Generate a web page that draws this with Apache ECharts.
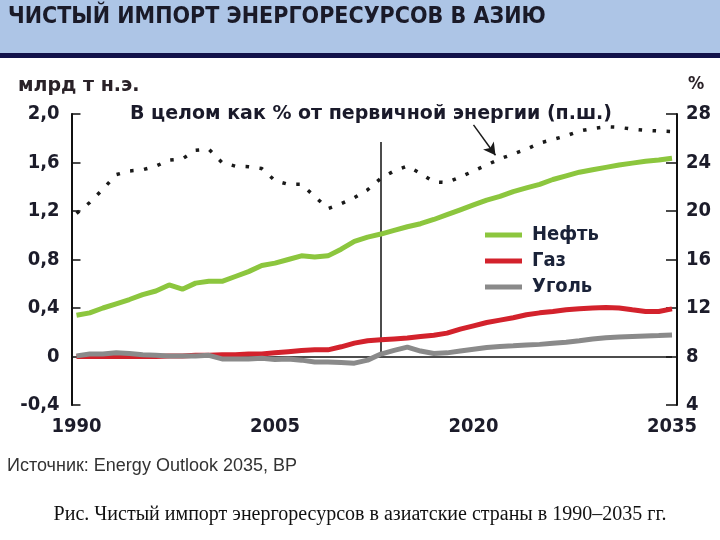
<!DOCTYPE html>
<html>
<head>
<meta charset="utf-8">
<script src="https://cdn.jsdelivr.net/npm/echarts@6/dist/echarts.min.js"></script>
<style>
  html, body { margin: 0; padding: 0; background: #ffffff; }
  #chart { width: 720px; height: 540px; }
</style>
</head>
<body>
<div id="chart"></div>
<script>
// ---- Data ----
const years = [1990,1991,1992,1993,1994,1995,1996,1997,1998,1999,
               2000,2001,2002,2003,2004,2005,2006,2007,2008,2009,
               2010,2011,2012,2013,2014,2015,2016,2017,2018,2019,
               2020,2021,2022,2023,2024,2025,2026,2027,2028,2029,
               2030,2031,2032,2033,2034,2035];
// billion toe (left axis)
const oil  = [0.34,0.36,0.40,0.435,0.47,0.51,0.54,0.59,0.555,0.605,
              0.62,0.62,0.66,0.70,0.75,0.77,0.80,0.83,0.82,0.83,
              0.885,0.95,0.985,1.01,1.04,1.07,1.095,1.13,1.17,1.21,
              1.25,1.29,1.32,1.36,1.39,1.42,1.46,1.49,1.52,1.54,
              1.56,1.58,1.595,1.61,1.62,1.635];
const gas  = [0,0,0,0,0,0,0,0.005,0.005,0.01,
              0.01,0.015,0.015,0.02,0.02,0.03,0.04,0.05,0.055,0.055,
              0.08,0.11,0.13,0.138,0.145,0.152,0.165,0.176,0.193,0.226,
              0.253,0.28,0.30,0.32,0.344,0.36,0.371,0.385,0.393,0.40,
              0.404,0.40,0.385,0.371,0.371,0.393];
const coal = [0.005,0.02,0.02,0.03,0.025,0.015,0.01,0.005,0.005,0.005,
              0.01,-0.02,-0.02,-0.02,-0.015,-0.025,-0.02,-0.03,-0.045,-0.045,
              -0.05,-0.055,-0.03,0.02,0.05,0.077,0.045,0.025,0.03,0.045,
              0.06,0.075,0.083,0.088,0.095,0.10,0.11,0.118,0.13,0.145,
              0.155,0.16,0.165,0.17,0.173,0.178];
// total as % of primary energy (right axis)
const sharePct = [19.8,20.7,21.8,23.0,23.3,23.4,23.7,24.2,24.3,25.0,
                  25.1,24.0,23.7,23.65,23.5,22.5,22.2,22.2,21.2,20.2,
                  20.6,21.1,21.75,22.7,23.3,23.7,23.1,22.4,22.35,22.8,
                  23.3,23.8,24.3,24.7,25.1,25.6,25.9,26.2,26.6,26.8,
                  26.95,26.9,26.75,26.65,26.6,26.55];
const seriesNames = ['Нефть','Газ','Уголь'];
const xTickLabels = ['1990','2005','2020','2035'];
const historyEndYear = 2013;
const arrowFrom = [2020.0, 27.1];
const arrowTo = [2021.66, 24.6];

const COND = "'DejaVu Sans Condensed','Liberation Sans Narrow','Roboto Condensed','DejaVu Sans',sans-serif";
const WIDE = "'DejaVu Sans',sans-serif";
const INK = '#1c1c2a';

function pairs(arr) { return years.map((y, i) => [y, arr[i]]); }
function commaFmt(v) {
  if (Math.abs(v) < 1e-9) return '0';
  return v.toFixed(1).replace('.', ',');
}

const chart = echarts.init(document.getElementById('chart'), null, { renderer: 'canvas' });

const option = {
  animation: false,
  backgroundColor: '#ffffff',
  grid: { left: 76.5, right: 48, top: 114, bottom: 135, containLabel: false },
  xAxis: {
    type: 'value', min: 1990, max: 2035, interval: 5,
    axisLine: { show: false }, axisTick: { show: false }, splitLine: { show: false },
    axisLabel: {
      margin: 12, fontSize: 20, fontWeight: 'bold', fontFamily: COND, color: INK,
      formatter: v => xTickLabels.indexOf(String(v)) >= 0 ? String(v) : ''
    }
  },
  yAxis: [
    {
      type: 'value', position: 'left', min: -0.4, max: 2.0, interval: 0.4, offset: 5,
      axisLine: { show: true, onZero: false, lineStyle: { color: '#111', width: 2 } },
      axisTick: { show: true, inside: true, length: 9, lineStyle: { color: '#111', width: 1.5 } },
      splitLine: { show: false },
      axisLabel: { margin: 12, fontSize: 20, fontWeight: 'bold', fontFamily: COND, color: INK, formatter: commaFmt }
    },
    {
      type: 'value', position: 'right', min: 4, max: 28, interval: 4, offset: 5,
      axisLine: { show: true, onZero: false, lineStyle: { color: '#111', width: 2 } },
      axisTick: { show: true, inside: true, length: 11, lineStyle: { color: '#111', width: 1.5 } },
      splitLine: { show: false },
      axisLabel: { margin: 9, fontSize: 20, fontWeight: 'bold', fontFamily: COND, color: INK }
    }
  ],
  legend: {
    show: true, orient: 'vertical', left: 485, top: 225, padding: 0,
    itemWidth: 37, itemHeight: 5, itemGap: 6, icon: 'rect',
    data: seriesNames,
    textStyle: { fontSize: 20, fontWeight: 'bold', fontFamily: COND, color: '#1a2238', lineHeight: 20, padding: [0, 0, 0, 5] }
  },
  series: [
    {
      name: 'refLines', type: 'line', data: [], yAxisIndex: 0, silent: true,
      markLine: {
        silent: true, symbol: ['none', 'none'], z: 1, label: { show: false },
        lineStyle: { color: '#111', width: 1.5, type: 'solid' },
        data: [
          { yAxis: 0 },
          [ { coord: [historyEndYear, 0] }, { coord: [historyEndYear, 1.77] } ]
        ]
      }
    },
    {
      name: 'share', type: 'line', yAxisIndex: 1, data: pairs(sharePct), symbol: 'none', z: 3,
      lineStyle: { color: '#1a1a1a', width: 3.5, type: [3.5, 10.5], cap: 'butt' },
      markLine: {
        silent: true, symbol: ['none', 'arrow'], symbolSize: [10, 12], z: 4, label: { show: false },
        lineStyle: { color: '#1a1a1a', width: 1.5, type: 'solid' },
        data: [ [ { coord: arrowFrom }, { coord: arrowTo } ] ]
      }
    },
    {
      name: seriesNames[0], type: 'line', yAxisIndex: 0, data: pairs(oil), symbol: 'none', z: 3,
      lineStyle: { color: '#8cc63e', width: 5 }, itemStyle: { color: '#8cc63e' }
    },
    {
      name: seriesNames[1], type: 'line', yAxisIndex: 0, data: pairs(gas), symbol: 'none', z: 3,
      lineStyle: { color: '#d3222c', width: 5 }, itemStyle: { color: '#d3222c' }
    },
    {
      name: seriesNames[2], type: 'line', yAxisIndex: 0, data: pairs(coal), symbol: 'none', z: 3,
      lineStyle: { color: '#8a8a8a', width: 5 }, itemStyle: { color: '#8a8a8a' }
    }
  ],
  graphic: [
    { type: 'rect', left: 0, top: 0, shape: { width: 720, height: 53 }, style: { fill: '#adc5e6' }, silent: true },
    { type: 'rect', left: 0, top: 53, shape: { width: 720, height: 5 }, style: { fill: '#12124a' }, silent: true },
    { type: 'text', left: 8, top: 6, silent: true,
      style: { text: 'ЧИСТЫЙ ИМПОРТ ЭНЕРГОРЕСУРСОВ В АЗИЮ', fontSize: 23, fontWeight: 'bold', fontFamily: COND, fill: '#1a1a28' } },
    { type: 'text', left: 18, top: 77, silent: true,
      style: { text: 'млрд т н.э.', fontSize: 19, fontWeight: 'bold', fontFamily: WIDE, fill: '#2a2228' } },
    { type: 'text', left: 688, top: 75, silent: true,
      style: { text: '%', fontSize: 18, fontWeight: 'bold', fontFamily: COND, fill: '#2a2228' } },
    { type: 'text', left: 130, top: 105, silent: true,
      style: { text: 'В целом как % от первичной энергии (п.ш.)', fontSize: 19, fontWeight: 'bold', fontFamily: WIDE, fill: '#1a1a2a' } },
    { type: 'text', left: 7, top: 457, silent: true,
      style: { text: 'Источник: Energy Outlook 2035, BP', fontSize: 18, fontFamily: "'Liberation Sans', Arial, sans-serif", fill: '#333333' } },
    { type: 'text', left: 'center', top: 505, silent: true,
      style: { text: 'Рис. Чистый импорт энергоресурсов в азиатские страны в 1990–2035 гг.', fontSize: 20, fontFamily: "'Liberation Serif', 'Times New Roman', serif", fill: '#111111' } }
  ]
};

chart.setOption(option);
</script>
</body>
</html>
